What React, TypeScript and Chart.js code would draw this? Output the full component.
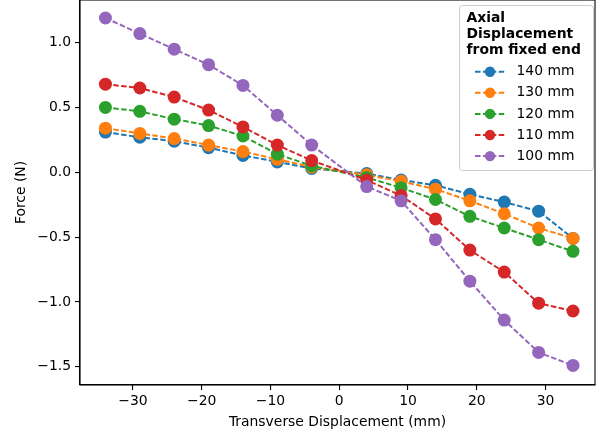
import React, { useEffect, useRef } from "react";
import { Chart, registerables } from "chart.js";

Chart.register(...registerables);

// Transverse positions (mm) where the force was measured
const transverseMm = [-34, -29, -24, -19, -14, -9, -4, 4, 9, 14, 19, 24, 29, 34];

// Force (N) for each axial displacement from the fixed end
const force140 = [0.31, 0.27, 0.24, 0.19, 0.13, 0.08, 0.03, -0.01, -0.06, -0.10, -0.17, -0.23, -0.30, -0.51];
const force130 = [0.34, 0.30, 0.26, 0.21, 0.16, 0.10, 0.04, -0.02, -0.07, -0.13, -0.22, -0.32, -0.43, -0.51];
const force120 = [0.50, 0.47, 0.41, 0.36, 0.28, 0.14, 0.05, -0.04, -0.12, -0.21, -0.34, -0.43, -0.52, -0.61];
const force110 = [0.68, 0.65, 0.58, 0.48, 0.35, 0.21, 0.09, -0.06, -0.18, -0.36, -0.60, -0.77, -1.01, -1.07];
const force100 = [1.19, 1.07, 0.95, 0.83, 0.67, 0.44, 0.21, -0.11, -0.22, -0.52, -0.84, -1.14, -1.39, -1.49];

const seriesLabels = ["140 mm", "130 mm", "120 mm", "110 mm", "100 mm"];
const seriesValues = [force140, force130, force120, force110, force100];
const seriesColors = ["#1f77b4", "#ff7f0e", "#2ca02c", "#d62728", "#9467bd"];

const legendTitleLines = ["Axial", "Displacement", "from fixed end"];

const xTickValues = [-30, -20, -10, 0, 10, 20, 30];
const yTickValues = [-1.5, -1.0, -0.5, 0.0, 0.5, 1.0];

const FONT_FAMILY = '"DejaVu Sans", sans-serif';
const FONT_SIZE = 13.9;
const DASH = [5.5, 2.4];

const fmt = (v: number, digits: number) => {
  const s = Math.abs(v).toFixed(digits);
  return v < -1e-9 ? "\u2212" + s : s;
};

// Full rectangular frame around the plotting area
const framePlugin = {
  id: "frame",
  afterDatasetsDraw(chart: any) {
    const { ctx, chartArea } = chart;
    ctx.save();
    ctx.strokeStyle = "#000";
    ctx.lineWidth = 1.1;
    ctx.strokeRect(chartArea.left, chartArea.top, chartArea.right - chartArea.left, chartArea.bottom - chartArea.top);
    ctx.restore();
  },
};

// Legend box with a multi-line bold title and dashed line + marker handles
const legendPlugin = {
  id: "boxLegend",
  afterDraw(chart: any) {
    const ctx = chart.ctx;
    const bx = 459.5, by = 5.5, bw = 134, bh = 165, r = 3;
    ctx.save();
    ctx.beginPath();
    ctx.moveTo(bx + r, by);
    ctx.lineTo(bx + bw - r, by);
    ctx.quadraticCurveTo(bx + bw, by, bx + bw, by + r);
    ctx.lineTo(bx + bw, by + bh - r);
    ctx.quadraticCurveTo(bx + bw, by + bh, bx + bw - r, by + bh);
    ctx.lineTo(bx + r, by + bh);
    ctx.quadraticCurveTo(bx, by + bh, bx, by + bh - r);
    ctx.lineTo(bx, by + r);
    ctx.quadraticCurveTo(bx, by, bx + r, by);
    ctx.closePath();
    ctx.fillStyle = "rgba(255,255,255,0.8)";
    ctx.fill();
    ctx.strokeStyle = "#cccccc";
    ctx.lineWidth = 1;
    ctx.stroke();

    ctx.fillStyle = "#000";
    ctx.textAlign = "left";
    ctx.textBaseline = "middle";
    ctx.font = `bold ${FONT_SIZE}px ${FONT_FAMILY}`;
    legendTitleLines.forEach((t, i) => ctx.fillText(t, 466.5, 18.5 + i * 16));

    ctx.font = `${FONT_SIZE}px ${FONT_FAMILY}`;
    chart.data.datasets.forEach((ds: any, i: number) => {
      const y = 71.7 + i * 21.1;
      ctx.strokeStyle = ds.borderColor;
      ctx.lineWidth = 2;
      ctx.setLineDash(DASH);
      ctx.beginPath();
      ctx.moveTo(475, y);
      ctx.lineTo(505, y);
      ctx.stroke();
      ctx.setLineDash([]);
      ctx.beginPath();
      ctx.arc(490, y, 5.2, 0, Math.PI * 2);
      ctx.fillStyle = ds.backgroundColor;
      ctx.fill();
      ctx.fillStyle = "#000";
      ctx.fillText(ds.label, 516.5, y);
    });
    ctx.restore();
  },
};

export default function App() {
  const canvasRef = useRef<HTMLCanvasElement | null>(null);

  useEffect(() => {
    if (!canvasRef.current) return;
    const font = { family: FONT_FAMILY, size: FONT_SIZE };
    const datasets = seriesValues.map((vals, i) => ({
      label: seriesLabels[i],
      data: transverseMm.map((x, j) => ({ x, y: vals[j] })),
      borderColor: seriesColors[i],
      backgroundColor: seriesColors[i],
      borderWidth: 2,
      borderDash: DASH,
      pointRadius: 6.5,
      pointBorderWidth: 0,
      pointBackgroundColor: seriesColors[i],
      tension: 0,
      fill: false,
      order: seriesValues.length - 1 - i,
    }));

    const chart = new Chart(canvasRef.current, {
      type: "line",
      data: { datasets },
      plugins: [framePlugin, legendPlugin],
      options: {
        responsive: false,
        animation: false,
        layout: { autoPadding: false, padding: { top: 0, right: 8, left: 0, bottom: 0 } },
        plugins: { legend: { display: false }, tooltip: { enabled: false } },
        scales: {
          x: {
            type: "linear",
            min: -37.7,
            max: 37.2,
            afterFit: (s: any) => {
              s.height = 48;
              s.paddingLeft = 0;
              s.paddingRight = 0;
            },
            afterBuildTicks: (s: any) => { s.ticks = xTickValues.map((v) => ({ value: v })); },
            ticks: {
              font,
              color: "#000",
              padding: 3,
              maxRotation: 0,
              autoSkip: false,
              callback: (v: any) => fmt(Number(v), 0),
            },
            grid: { display: true, drawOnChartArea: false, drawTicks: true, tickLength: 5, color: "#000", lineWidth: 1.1 },
            border: { display: true, color: "#000", width: 1.1 },
            title: { display: true, text: "Transverse Displacement (mm)", font, color: "#000", padding: { top: 0, bottom: 2 } },
          },
          y: {
            type: "linear",
            min: -1.641,
            max: 1.329,
            afterFit: (s: any) => {
              s.width = 80;
              s.paddingTop = 0;
              s.paddingBottom = 0;
            },
            afterBuildTicks: (s: any) => { s.ticks = yTickValues.map((v) => ({ value: v })); },
            ticks: {
              font,
              color: "#000",
              padding: 4,
              autoSkip: false,
              callback: (v: any) => fmt(Number(v), 1),
            },
            grid: { display: true, drawOnChartArea: false, drawTicks: true, tickLength: 5, color: "#000", lineWidth: 1.1 },
            border: { display: true, color: "#000", width: 1.1 },
            title: { display: true, text: "Force (N)", font, color: "#000", padding: { top: 13, bottom: 0 } },
          },
        },
      },
    } as any);
    return () => chart.destroy();
  }, []);

  return (
    <div style={{ position: "absolute", left: 0, top: 0, width: 603, height: 433, background: "#fff" }}>
      <canvas ref={canvasRef} width={603} height={433} style={{ display: "block" }} />
    </div>
  );
}
